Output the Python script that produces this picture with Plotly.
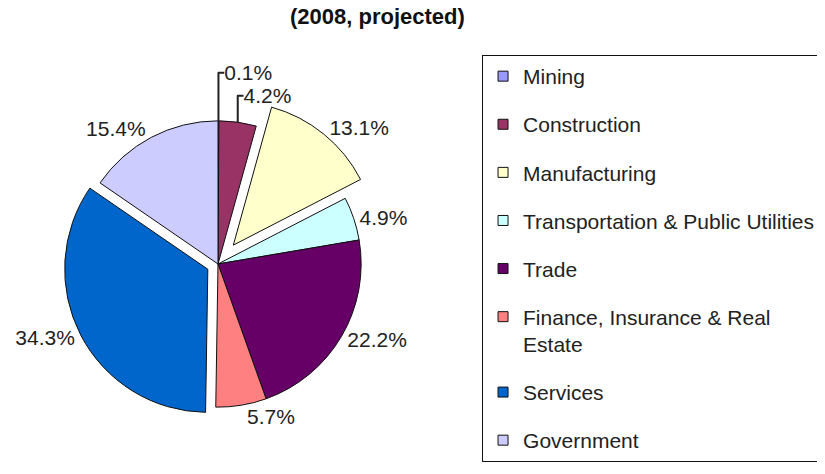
import plotly.graph_objects as go

categories = ["Mining", "Construction", "Manufacturing", "Transportation & Public Utilities",
              "Trade", "Finance, Insurance & Real Estate", "Services", "Government"]
legend_labels = ["Mining", "Construction", "Manufacturing", "Transportation & Public Utilities",
                 "Trade", "Finance, Insurance & Real<br>Estate", "Services", "Government"]
shares = [0.1, 4.2, 13.1, 4.9, 22.2, 5.7, 34.3, 15.4]
colors = ["#9999FF", "#993366", "#FFFFCC", "#CCFFFF", "#660066", "#FF8080", "#0066CC", "#CCCCFF"]
pulls = [0, 0, 0.17, 0, 0, 0, 0.08, 0]
subtitle = "(2008, projected)"

FONT = "Liberation Sans, Arial, sans-serif"

fig = go.Figure()
fig.add_trace(go.Pie(
    labels=categories, values=shares, sort=False, direction="clockwise", rotation=0,
    marker=dict(colors=colors, line=dict(color="#111111", width=1)),
    pull=pulls, texttemplate="%{value:.1f}%", textposition="outside",
    textfont=dict(family=FONT, size=21, color="#222222"),
    showlegend=False,
    domain=dict(x=[0.0515, 0.4576], y=[0.1066, 0.8133]),
))

for name, col in zip(legend_labels, colors):
    fig.add_trace(go.Scatter(
        x=[None], y=[None], mode="markers", name=name, legendgroup=name,
        marker=dict(symbol="square", size=10, color=col, line=dict(color="#111111", width=1)),
    ))

fig.update_layout(
    width=825, height=474,
    margin=dict(l=0, r=0, t=0, b=0, autoexpand=False),
    paper_bgcolor="white", plot_bgcolor="white",
    font=dict(family=FONT, size=21, color="#222222"),
    xaxis=dict(visible=False), yaxis=dict(visible=False),
    annotations=[dict(text="<b>" + subtitle + "</b>", xref="paper", yref="paper",
                      x=0.3394, xanchor="left", y=0.982, yanchor="middle", showarrow=False,
                      font=dict(family=FONT, size=22, color="#111111"))],
    legend=dict(x=0.5746, xanchor="left", y=0.9008, yanchor="top",
                bordercolor="#111111", borderwidth=1, bgcolor="white",
                tracegroupgap=17.8, valign="top", traceorder="grouped",
                font=dict(family=FONT, size=21, color="#222222")),
)

fig.write_html("out.html")
